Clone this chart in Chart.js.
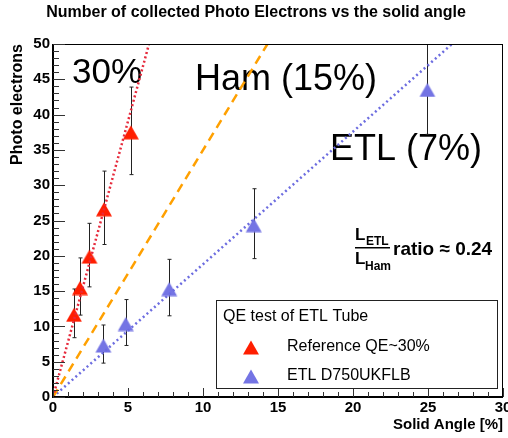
<!DOCTYPE html>
<html>
<head>
<meta charset="utf-8">
<script src="https://cdn.jsdelivr.net/npm/chart.js@4.4.1/dist/chart.umd.min.js"></script>
<style>
body { margin: 0; background: #fff; overflow: hidden; }
#wrap { width: 513px; height: 438px; }
</style>
</head>
<body>
<div id="wrap"><canvas id="myChart"></canvas></div>
<script>
// reference tube, QE ~30%
var refAngle = [1.40, 1.80, 2.43, 3.40, 5.19];
var refPE    = [11.85, 15.65, 20.1, 26.8, 37.7];
var refErr   = [3.45, 4.05, 4.5, 5.2, 6.2];
// ETL D750UKFLB
var etlAngle = [3.36, 4.85, 7.75, 13.38, 24.96];
var etlPE    = [7.5, 10.55, 15.5, 24.55, 43.7];
var etlErr   = [2.7, 3.25, 4.0, 4.95, 6.5];
// straight lines (end points)
var line30X = [0, 6.4],  line30Y = [0, 50];
var line15X = [0, 14.3], line15Y = [0, 50];
var line7X  = [0, 26.6], line7Y  = [0, 50];
var xTicks = [0, 5, 10, 15, 20, 25, 30];
var yTicks = [0, 5, 10, 15, 20, 25, 30, 35, 40, 45, 50];

var FONT = "'Liberation Sans', Arial, Helvetica, sans-serif";
var RED = '#ff1e00', BLUE = '#7474e4', ORANGE = '#ffa000';
var RED_LINE = '#e62a3c', BLUE_LINE = '#6c6ce0';

function pts(xs, ys) {
    return xs.map(function(x, i){ return {x: x, y: ys[i]}; });
}

// ROOT-like triangle marker
function triangle(color) {
    var c = document.createElement('canvas');
    c.width = 18; c.height = 18;
    var g = c.getContext('2d');
    g.fillStyle = color;
    g.beginPath();
    g.moveTo(9, 3.5); g.lineTo(17, 17.5); g.lineTo(1, 17.5);
    g.closePath(); g.fill();
    return c;
}
var redTri = triangle(RED), blueTri = triangle(BLUE);

var errorBars = {
    id: 'errorBars',
    beforeDatasetsDraw: function(chart) {
        var ctx = chart.ctx, xs = chart.scales.x, ys = chart.scales.y, a = chart.chartArea;
        ctx.save();
        // labels inside the frame
        ctx.fillStyle = '#000';
        ctx.textBaseline = 'alphabetic';
        ctx.font = '35px ' + FONT;
        ctx.fillText('30%', 72, 83);
        ctx.font = '36px ' + FONT;
        ctx.fillText('Ham (15%)', 195, 90);
        ctx.fillText('ETL (7%)', 330, 160);
        // L_ETL / L_Ham ratio
        ctx.font = 'bold 17px ' + FONT;
        ctx.fillText('L', 355, 240);
        ctx.fillText('L', 355, 264);
        ctx.font = 'bold 12px ' + FONT;
        ctx.fillText('ETL', 366, 245);
        ctx.fillText('Ham', 365, 270);
        ctx.fillRect(355, 247, 35, 1.5);
        ctx.font = 'bold 19px ' + FONT;
        ctx.fillText('ratio \u2248 0.24', 393, 255);

        ctx.beginPath();
        ctx.rect(a.left, a.top, a.right - a.left, a.bottom - a.top);
        ctx.clip();
        ctx.strokeStyle = '#222';
        ctx.lineWidth = 1;
        [[refAngle, refPE, refErr], [etlAngle, etlPE, etlErr]].forEach(function(s){
            for (var i = 0; i < s[0].length; i++) {
                var px = Math.round(xs.getPixelForValue(s[0][i])) + 0.5;
                var top = ys.getPixelForValue(s[1][i] + s[2][i]);
                var bot = ys.getPixelForValue(s[1][i] - s[2][i]);
                ctx.beginPath();
                ctx.moveTo(px, top); ctx.lineTo(px, bot);
                ctx.moveTo(px - 2, top); ctx.lineTo(px + 2, top);
                ctx.moveTo(px - 2, bot); ctx.lineTo(px + 2, bot);
                ctx.stroke();
            }
        });
        ctx.restore();
    }
};

var frame = {
    id: 'frame',
    afterDraw: function(chart) {
        var ctx = chart.ctx, xs = chart.scales.x, ys = chart.scales.y, a = chart.chartArea;
        ctx.save();
        ctx.strokeStyle = '#000';
        ctx.lineWidth = 1;
        ctx.strokeRect(a.left + 0.5, a.top + 0.5, a.right - a.left - 1, a.bottom - a.top);
        ctx.lineWidth = 2;
        ctx.beginPath();
        ctx.moveTo(a.left, a.top); ctx.lineTo(a.left, a.bottom); ctx.lineTo(a.right, a.bottom);
        ctx.stroke();
        // inward ticks, minor every 1 unit
        ctx.lineWidth = 1;
        ctx.strokeStyle = '#333';
        ctx.beginPath();
        for (var v = 0; v <= 30; v++) {
            var px = Math.round(xs.getPixelForValue(v)) + 0.5;
            ctx.moveTo(px, a.bottom);
            ctx.lineTo(px, a.bottom - (v % 5 == 0 ? 9 : 5));
        }
        for (var w = 0; w <= 50; w++) {
            var py = Math.round(ys.getPixelForValue(w)) + 0.5;
            ctx.moveTo(a.left, py);
            ctx.lineTo(a.left + (w % 5 == 0 ? 12 : 6), py);
        }
        ctx.stroke();

        // legend box
        ctx.fillStyle = '#fff';
        ctx.fillRect(216, 300, 281, 88);
        ctx.strokeStyle = '#222';
        ctx.strokeRect(216.5, 300.5, 281, 88);
        ctx.fillStyle = '#000';
        ctx.font = '16px ' + FONT;
        ctx.textBaseline = 'middle';
        ctx.fillText('QE test of ETL Tube', 223, 317);
        ctx.drawImage(redTri, 242, 337);
        ctx.fillText(chart.data.datasets[3].label, 287, 347);
        ctx.drawImage(blueTri, 242, 366);
        ctx.fillText(chart.data.datasets[4].label, 287, 376);
        ctx.restore();
    }
};

Chart.defaults.font.family = FONT;
Chart.defaults.color = '#000';

var ctx = document.getElementById('myChart').getContext('2d');
var myChart = new Chart(ctx, {
    type: 'scatter',
    data: {
        datasets: [{
            type: 'line',
            label: '30%',
            data: pts(line30X, line30Y),
            borderColor: RED_LINE,
            borderWidth: 2.5,
            borderDash: [2, 2.5],
            pointRadius: 0,
            fill: false
        }, {
            type: 'line',
            label: 'Ham (15%)',
            data: pts(line15X, line15Y),
            borderColor: ORANGE,
            borderWidth: 2.5,
            borderDash: [9, 6],
            pointRadius: 0,
            fill: false
        }, {
            type: 'line',
            label: 'ETL (7%)',
            data: pts(line7X, line7Y),
            borderColor: BLUE_LINE,
            borderWidth: 2.5,
            borderDash: [2, 3],
            pointRadius: 0,
            fill: false
        }, {
            label: 'Reference QE~30%',
            data: pts(refAngle, refPE),
            pointStyle: redTri,
            pointRadius: 9
        }, {
            label: 'ETL D750UKFLB',
            data: pts(etlAngle, etlPE),
            pointStyle: blueTri,
            pointRadius: 9
        }]
    },
    options: {
        responsive: true,
        maintainAspectRatio: false,
        animation: false,
        layout: { padding: { left: 0, right: 1, top: 0, bottom: 0 } },
        plugins: {
            legend: { display: false },
            tooltip: { enabled: false },
            title: {
                display: true,
                text: 'Number of collected Photo Electrons vs the solid angle',
                font: { size: 16, weight: 'bold' },
                color: '#000',
                padding: { top: 3, bottom: 21.8 }
            }
        },
        scales: {
            x: {
                type: 'linear',
                min: 0, max: 30,
                grid: { display: false, drawTicks: false },
                border: { display: false },
                afterBuildTicks: function(s){ s.ticks = xTicks.map(function(v){ return {value: v}; }); },
                ticks: { font: { size: 15, weight: 'bold' }, padding: 2, maxRotation: 0, autoSkip: false },
                title: {
                    display: true, text: 'Solid Angle [%]', align: 'end',
                    font: { size: 15, weight: 'bold' }, padding: { top: 0, bottom: 4 }
                },
                afterFit: function(s){ s.height = 41; s.paddingLeft = 0; s.paddingRight = 0; }
            },
            y: {
                type: 'linear',
                min: 0, max: 50,
                grid: { display: false, drawTicks: false },
                border: { display: false },
                afterBuildTicks: function(s){ s.ticks = yTicks.map(function(v){ return {value: v}; }); },
                ticks: { font: { size: 15, weight: 'bold' }, padding: 3, autoSkip: false },
                title: {
                    display: true, text: 'Photo electrons', align: 'end',
                    font: { size: 16, weight: 'bold' }, padding: { top: 8.4, bottom: 0 }
                },
                afterFit: function(s){ s.width = 53; s.paddingTop = 0; s.paddingBottom = 0; }
            }
        }
    },
    plugins: [errorBars, frame]
});
</script>
</body>
</html>
